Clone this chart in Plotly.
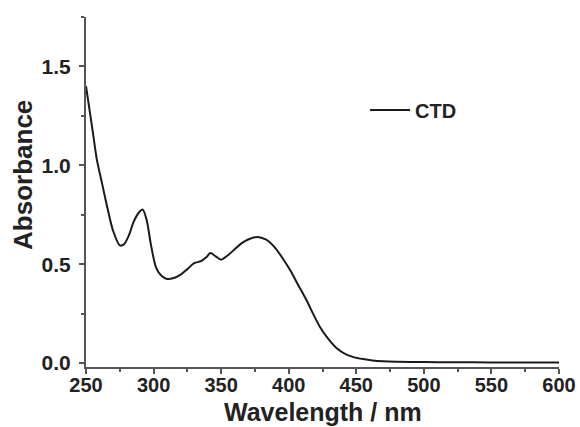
import plotly.graph_objects as go

wavelength = [250, 255, 258, 262, 266, 270, 275, 278, 282, 285, 289, 292, 295, 298, 302, 306,
              310, 315, 320, 325, 330, 335, 339, 342, 346, 350, 355, 360, 365, 370, 377, 383,
              389, 395, 401, 407, 413, 418, 423, 429, 436, 442, 448, 455, 462, 470, 480, 500,
              520, 550, 580, 600]
absorbance = [1.40, 1.17, 1.03, 0.905, 0.78, 0.67, 0.595, 0.60, 0.65, 0.71, 0.76, 0.776, 0.72,
              0.60, 0.48, 0.44, 0.425, 0.43, 0.447, 0.475, 0.505, 0.515, 0.535, 0.556, 0.54,
              0.523, 0.545, 0.575, 0.605, 0.625, 0.638, 0.625, 0.59, 0.535, 0.47, 0.395, 0.32,
              0.25, 0.184, 0.125, 0.072, 0.045, 0.03, 0.02, 0.013, 0.009, 0.007, 0.005, 0.004,
              0.003, 0.003, 0.003]

x_ticks = [250, 300, 350, 400, 450, 500, 550, 600]
y_ticks = [0.0, 0.5, 1.0, 1.5]
y_ticktext = ["0.0", "0.5", "1.0", "1.5"]

FONT = "Liberation Sans, Arial, sans-serif"
AXIS_COLOR = "#555555"
TEXT_COLOR = "#222222"

fig = go.Figure()
fig.add_trace(go.Scatter(
    x=wavelength, y=absorbance, mode="lines", name="CTD",
    line=dict(color="#1a1a1a", width=2, shape="spline", smoothing=0.8),
))

fig.update_layout(
    width=580, height=427,
    margin=dict(l=86, r=21, t=17, b=60, autoexpand=False),
    paper_bgcolor="white", plot_bgcolor="white",
    font=dict(family=FONT, size=19, color=TEXT_COLOR, weight="bold"),
    showlegend=True,
    legend=dict(x=0.59, y=0.734, xanchor="left", yanchor="middle",
                bgcolor="rgba(0,0,0,0)", font=dict(size=20, weight="bold"),
                itemwidth=40, tracegroupgap=0),
    annotations=[
        dict(text="Absorbance", x=-0.133, y=0.549, xref="paper", yref="paper",
             textangle=-90, showarrow=False, xanchor="center", yanchor="middle",
             font=dict(size=26, family=FONT, color=TEXT_COLOR, weight="bold")),
        dict(text="Wavelength / nm", x=0.5, y=-0.128, xref="paper", yref="paper",
             showarrow=False, xanchor="center", yanchor="middle", borderpad=0,
             font=dict(size=25, family=FONT, color=TEXT_COLOR, weight="bold")),
    ],
)

fig.update_xaxes(
    range=[250, 600], tickvals=x_ticks, showgrid=False, zeroline=False, automargin=False,
    showline=True, linecolor=AXIS_COLOR, linewidth=2,
    ticks="outside", ticklen=5, tickwidth=1.5, tickcolor=AXIS_COLOR, ticklabelstandoff=-6,
    minor=dict(ticks="outside", ticklen=3, dtick=25, tick0=250, tickcolor=AXIS_COLOR, showgrid=False),
    tickfont=dict(size=20, family=FONT, color=TEXT_COLOR, weight="bold"),
)
fig.update_yaxes(
    range=[-0.02, 1.75], tickvals=y_ticks, ticktext=y_ticktext, showgrid=False, zeroline=False,
    automargin=False,
    showline=True, linecolor=AXIS_COLOR, linewidth=2,
    ticks="outside", ticklen=5, tickwidth=1.5, tickcolor=AXIS_COLOR, ticklabelstandoff=4,
    minor=dict(ticks="outside", ticklen=3, dtick=0.25, tick0=0, tickcolor=AXIS_COLOR, showgrid=False),
    tickfont=dict(size=21, family=FONT, color=TEXT_COLOR, weight="bold"),
)

fig.write_html("out.html")
